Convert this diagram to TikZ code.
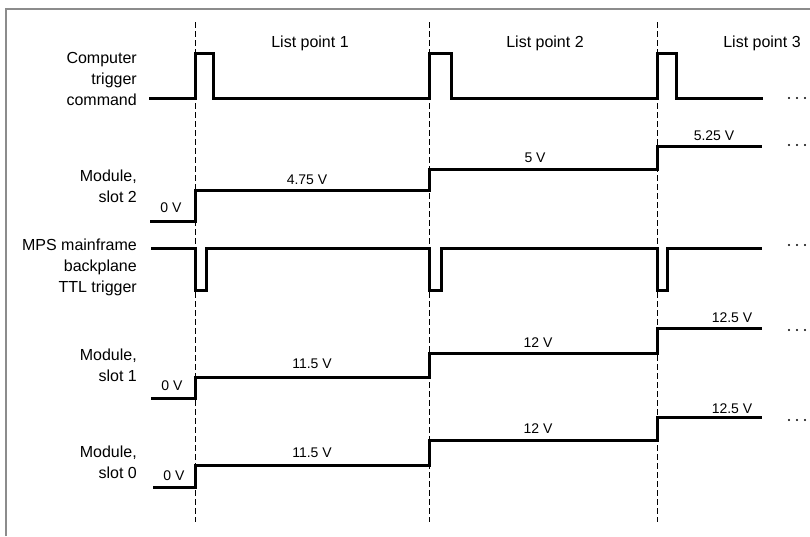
\documentclass[tikz,border=0pt]{standalone}
\usepackage{fontspec}
\setmainfont{Liberation Sans}
\begin{document}
\begin{tikzpicture}[x=1pt,y=-1pt,
  sig/.style={line width=3pt,line join=miter,line cap=butt},
  guide/.style={line width=0.9pt,dash pattern=on 6pt off 3pt},
  frameline/.style={line width=2pt,draw=black!45},
  lbl/.style={font=\fontsize{16}{21}\selectfont,align=right,anchor=east,inner sep=0pt},
  hdr/.style={font=\fontsize{16}{21}\selectfont,inner sep=0pt},
  volt/.style={font=\fontsize{14}{16}\selectfont,inner sep=0pt},
  dotmark/.style={fill=black,draw=none}]
\useasboundingbox (0,0) rectangle (810,536);
\fill[white] (0,0) rectangle (810,536);
% frame
\draw[frameline] (5.5,536) -- (5.5,8.5) -- (810,8.5);
% guides
\foreach \gx/\nm in {195/g1,429/g2,657/g3}{
  \coordinate (\nm t) at (\gx,22);
  \coordinate (\nm b) at (\gx,522);
  \draw[guide] (\nm t) -- (\nm b);
}
% headers
\node[hdr] (h1) at (310,43) {List point 1};
\node[hdr] (h2) at (545,43) {List point 2};
\node[hdr] (h3) at (762,43) {List point 3};
% labels
\node[lbl] (l1) at (137,79) {Computer\\trigger\\command};
\node[lbl] (l2) at (137,186) {Module,\\slot 2};
\node[lbl] (l3) at (137,267) {MPS mainframe\\backplane\\TTL trigger};
\node[lbl] (l4) at (137,365) {Module,\\slot 1};
\node[lbl] (l5) at (137,462) {Module,\\slot 0};
% computer trigger
\draw[sig] (149,98) -- (195,98) -- (195,53) -- (213,53) -- (213,98)
  -- (429,98) -- (429,53) -- (451,53) -- (451,98)
  -- (657,98) -- (657,53) -- (676,53) -- (676,98) -- (763,98);
% slot 2
\draw[sig] (150,221) -- (195,221) -- (195,190) -- (429,190) -- (429,169)
  -- (657,169) -- (657,146) -- (762,146);
% MPS backplane
\draw[sig] (151,248) -- (195,248) -- (195,290) -- (206,290) -- (206,248)
  -- (429,248) -- (429,290) -- (441,290) -- (441,248)
  -- (657,248) -- (657,290) -- (667,290) -- (667,248) -- (762,248);
% slot 1
\draw[sig] (151,398) -- (195,398) -- (195,377) -- (429,377) -- (429,353)
  -- (657,353) -- (657,328) -- (762,328);
% slot 0
\draw[sig] (153,487) -- (195,487) -- (195,465) -- (429,465) -- (429,440)
  -- (657,440) -- (657,417) -- (762,417);
% voltages
\node[volt] (v20) at (171,208) {0 V};
\node[volt] (v21) at (307,180) {4.75 V};
\node[volt] (v22) at (535,158) {5 V};
\node[volt] (v23) at (714,136) {5.25 V};
\node[volt] (v10) at (172,386) {0 V};
\node[volt] (v11) at (312,364) {11.5 V};
\node[volt] (v12) at (538,343) {12 V};
\node[volt] (v13) at (732,318) {12.5 V};
\node[volt] (v00) at (174,476) {0 V};
\node[volt] (v01) at (312,453) {11.5 V};
\node[volt] (v02) at (538,429) {12 V};
\node[volt] (v03) at (732,409) {12.5 V};
% continuation dots
\foreach \dy in {98,145,245,330,420}{
  \foreach \dx in {789,797,805}{
    \fill[dotmark] (\dx,\dy) circle (1.2pt);
  }
}
\end{tikzpicture}
\end{document}
